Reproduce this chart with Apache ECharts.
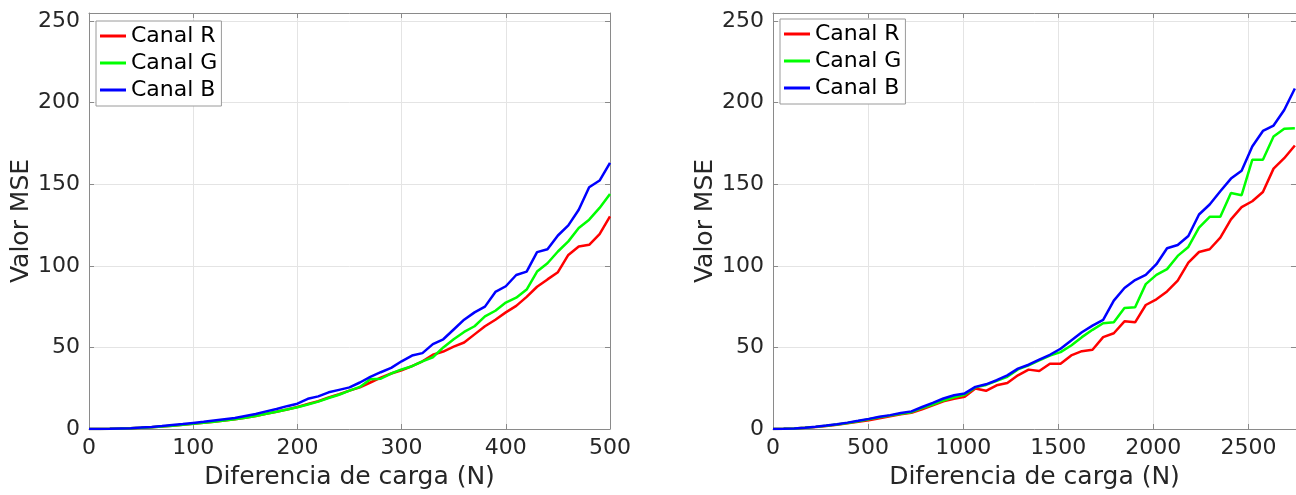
<!DOCTYPE html>
<html>
<head>
<meta charset="utf-8">
<script src="https://cdn.jsdelivr.net/npm/echarts@6/dist/echarts.min.js"></script>
<style>
html,body{margin:0;padding:0;background:#fff;}
#c{width:1296px;height:495px;}
</style>
</head>
<body>
<div id="c"></div>
<script>
// ---- Data ----
var seriesNames = ['Canal R', 'Canal G', 'Canal B'];
var xTitle = 'Diferencia de carga (N)';
var yTitle = 'Valor MSE';

// Left panel
var leftX = [0,10,20,30,40,50,60,70,80,90,100,110,120,130,140,150,160,170,180,190,200,210,220,230,240,250,260,270,280,290,300,310,320,330,340,350,360,370,380,390,400,410,420,430,440,450,460,470,480,490,500];
var leftR = [0,0,0.1,0.25,0.45,0.75,1.1,1.5,2.0,2.6,3.2,3.8,4.5,5.2,6.0,6.9,8.0,9.3,10.6,12.0,13.5,15.3,17,19.3,21.3,23.5,25.5,28.5,31.5,34,36,38.5,41.5,45.5,47.5,50.5,53,58,63,67,71.5,75.5,81,87.2,91.7,96.1,106.7,111.9,112.9,119.5,130.3];
var leftG = [0,0,0.1,0.25,0.45,0.75,1.1,1.5,2.0,2.6,3.2,3.8,4.5,5.2,6.0,6.9,8.0,9.3,10.6,12.0,13.3,15.0,16.8,19.0,21,23.5,25.8,30.5,30.8,34,36.5,38.5,41.5,44,50,55,59.5,63,69,72.5,77.5,80.5,85.5,96.5,101.6,108.8,115,123.2,128.3,135.5,144.1];
var leftB = [0,0,0.1,0.3,0.5,0.9,1.3,1.8,2.4,3.0,3.7,4.4,5.2,6.0,6.8,8.0,9.2,10.8,12.3,14.0,15.5,18.5,20,22.5,24,25.5,28.5,32,34.8,37.5,41.5,45,46.5,52,55,61,67,71.5,75,84,87.5,94.4,96.5,108.4,110.2,118.6,124.8,134.4,148.2,152.3,163.2];

// Right panel
var rightX = [0,56,112,168,224,280,336,392,448,504,560,616,672,728,784,840,896,952,1008,1064,1120,1176,1232,1288,1344,1400,1456,1512,1568,1624,1680,1736,1792,1848,1904,1960,2016,2072,2128,2184,2240,2296,2352,2408,2464,2520,2576,2632,2688,2744];
var rightR = [0,0.1,0.3,0.7,1.2,1.9,2.6,3.5,4.4,5.4,6.6,7.8,9.0,9.9,12,14.5,17,18.5,19.7,24.8,23.4,26.8,28.2,32.9,36.4,35.6,40,40,45.1,47.7,48.6,56.3,58.7,66,65.4,76,79.5,84.3,90.9,102,108.5,110.2,117.3,128.5,136,139.6,145.3,159.6,166,173.8];
var rightG = [0,0.1,0.3,0.75,1.3,2.0,2.8,3.7,4.8,6.0,7.2,8.2,9.4,10.3,12.8,15,17.5,19.5,21,25.5,27,29.5,32,36.5,39,42,45,47.1,51.2,56.3,60.8,64.8,65.4,74.2,74.6,88.8,94.5,98,106.1,111.6,123.4,130.1,130.1,144.7,143.3,165,165,179.3,184,184.3];
var rightB = [0,0.1,0.35,0.8,1.4,2.1,2.9,3.9,5.0,6.2,7.5,8.5,9.8,10.8,13.5,16,18.7,20.7,21.8,25.8,27.4,29.9,32.9,37,39.4,42.5,45.5,49.2,54.3,59.3,63.4,66.9,78.7,86.4,91.3,94.5,101,110.8,112.8,118.3,131.5,137.6,145.7,153.5,158.3,173.2,182.7,186,195.5,208.7];

var colors = ['#ff0000', '#00ff00', '#0000ff'];

// ---- Chart ----
var FONT = 'DejaVu Sans';
var AX = '#8a8a8a';
var TXT = '#262626';
var GRIDC = '#e4e4e4';

function pairs(xs, ys) { return xs.map(function (x, i) { return [x, ys[i]]; }); }
function plain(v) { return String(v); }

function mainX(grid, max, interval, hideMax) {
  return {
    type: 'value', gridIndex: grid, min: 0, max: max, interval: interval, position: 'bottom',
    name: xTitle, nameLocation: 'middle', nameGap: 36,
    nameTextStyle: { fontFamily: FONT, fontSize: 25, color: TXT },
    axisLine: { show: true, onZero: false, lineStyle: { color: AX, width: 1 } },
    axisTick: { show: true, inside: true, length: 5, lineStyle: { color: AX } },
    axisLabel: { fontFamily: FONT, fontSize: 22, color: TXT, margin: 8, showMaxLabel: !hideMax, formatter: plain },
    splitLine: { show: true, lineStyle: { color: GRIDC, width: 1 } }
  };
}
function topX(grid, max, interval) {
  return {
    type: 'value', gridIndex: grid, min: 0, max: max, interval: interval, position: 'top',
    axisLine: { show: true, onZero: false, lineStyle: { color: AX, width: 1 } },
    axisTick: { show: true, inside: true, length: 5, lineStyle: { color: AX } },
    axisLabel: { show: false }, splitLine: { show: false }
  };
}
function mainY(grid) {
  return {
    type: 'value', gridIndex: grid, min: 0, max: 255, interval: 50, position: 'left',
    name: yTitle, nameLocation: 'middle', nameGap: 55,
    nameTextStyle: { fontFamily: FONT, fontSize: 25, color: TXT },
    axisLine: { show: true, onZero: false, lineStyle: { color: AX, width: 1 } },
    axisTick: { show: true, inside: true, length: 5, lineStyle: { color: AX } },
    axisLabel: { fontFamily: FONT, fontSize: 22, color: TXT, margin: 9, showMaxLabel: false, formatter: plain },
    splitLine: { show: true, lineStyle: { color: GRIDC, width: 1 } }
  };
}
function rightY(grid) {
  return {
    type: 'value', gridIndex: grid, min: 0, max: 255, interval: 50, position: 'right',
    axisLine: { show: true, onZero: false, lineStyle: { color: AX, width: 1 } },
    axisTick: { show: true, inside: true, length: 5, lineStyle: { color: AX } },
    axisLabel: { show: false }, splitLine: { show: false }
  };
}
function legend(left, top) {
  return {
    left: left, top: top, orient: 'vertical', icon: 'rect',
    itemWidth: 26, itemHeight: 3, itemGap: 5,
    padding: [4, 4, 5, 4],
    backgroundColor: '#ffffff', borderColor: '#9a9a9a', borderWidth: 1, borderRadius: 0,
    textStyle: { fontFamily: FONT, fontSize: 22, color: '#000' },
    data: seriesNames
  };
}

var series = [];
var leftData = [leftR, leftG, leftB];
var rightData = [rightR, rightG, rightB];
for (var i = 0; i < 3; i++) {
  series.push({
    name: seriesNames[i], type: 'line', xAxisIndex: 0, yAxisIndex: 0,
    data: pairs(leftX, leftData[i]), showSymbol: false, symbol: 'none',
    lineStyle: { width: 2.5, color: colors[i] }, itemStyle: { color: colors[i] }, z: 3 + i
  });
}
for (var j = 0; j < 3; j++) {
  series.push({
    name: seriesNames[j], type: 'line', xAxisIndex: 2, yAxisIndex: 2,
    data: pairs(rightX, rightData[j]), showSymbol: false, symbol: 'none',
    lineStyle: { width: 2.5, color: colors[j] }, itemStyle: { color: colors[j] }, z: 3 + j
  });
}

var chart = echarts.init(document.getElementById('c'), null, { renderer: 'canvas' });
chart.setOption({
  animation: false,
  backgroundColor: '#ffffff',
  textStyle: { fontFamily: FONT },
  grid: [
    { left: 89, top: 13, width: 521, height: 416.5 },
    { left: 773, top: 13, width: 523.6, height: 416.5 }
  ],
  legend: [legend(96, 21), legend(780, 19)],
  xAxis: [mainX(0, 500, 100, false), topX(0, 500, 100), mainX(1, 2750, 500, true), topX(1, 2750, 500)],
  yAxis: [mainY(0), rightY(0), mainY(1), rightY(1)],
  series: series
});
</script>
</body>
</html>
